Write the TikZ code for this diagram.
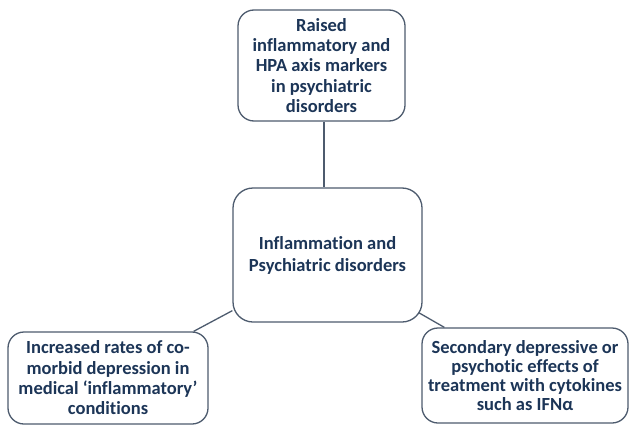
\documentclass[tikz,border=0pt]{standalone}
\usepackage{fontspec}
\setmainfont[Ligatures={NoCommon}]{Carlito}
\definecolor{boxline}{HTML}{4D5B6E}
\definecolor{boxtext}{HTML}{1C3557}
\begin{document}
\begin{tikzpicture}[x=1bp,y=1bp,
  topic/.style={draw=boxline, line width=1.3bp, rounded corners=16bp, fill=white,
    text=boxtext, font=\bfseries\fontsize{18.5bp}{20.3bp}\selectfont, align=center,
    inner sep=0pt},
  link/.style={draw=boxline, line width=1.3bp}]
\useasboundingbox (0,0) rectangle (629,425);
\fill[white] (0,0) rectangle (629,425);

\node[topic, minimum width=167bp, minimum height=111bp] (top) at (321.5,359.5)
  {Raised\\inflammatory and\\HPA axis markers\\in psychiatric\\disorders};
\node[topic, minimum width=189bp, minimum height=134bp, rounded corners=20bp,
  font=\bfseries\fontsize{18.5bp}{22bp}\selectfont] (hub) at (327.5,170)
  {Inflammation and\\Psychiatric disorders};
\node[topic, minimum width=200bp, minimum height=92bp] (left) at (108,47)
  {Increased rates of co-\\morbid depression in\\medical ‘inflammatory’\\conditions};
\node[topic, minimum width=206bp, minimum height=95bp, font=\bfseries\fontsize{18.5bp}{18.8bp}\selectfont] (right) at (525,49.5)
  {Secondary depressive or\\psychotic effects of\\treatment with cytokines\\such as IFNα};

\coordinate (topfoot) at ([xshift=2.5bp]top.south);
\draw[link] (topfoot) -- (topfoot |- hub.north);
\draw[link] ([xshift=-15bp]left.north east) -- ([yshift=12bp]hub.south west);
\draw[link] ([xshift=-4bp,yshift=10bp]hub.south east) -- ([xshift=23bp]right.north west);
\end{tikzpicture}
\end{document}
